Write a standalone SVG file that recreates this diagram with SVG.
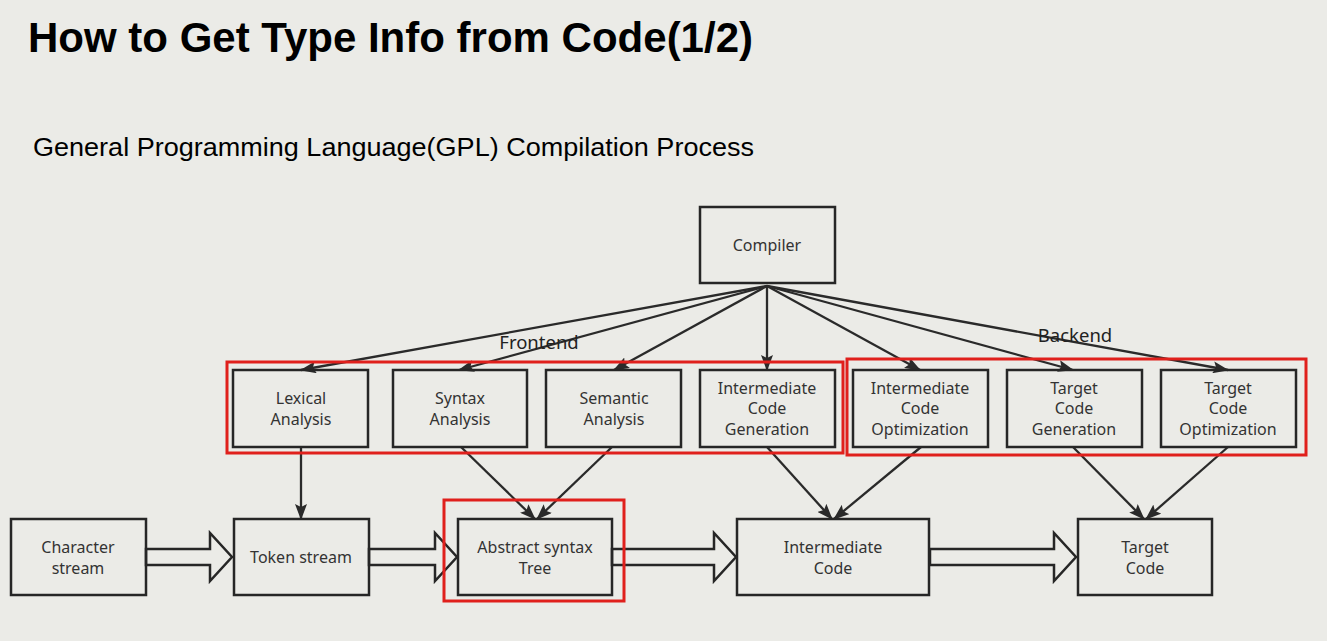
<svg xmlns="http://www.w3.org/2000/svg" width="1327" height="641" viewBox="0 0 1327 641">
<style>
.bg{fill:#ebebe7}
.node rect{fill:none;stroke:#262626;stroke-width:2.5}
.node text,.lbl{font-family:"Noto Sans","Open Sans",sans-serif;font-size:16px;fill:#333;text-anchor:middle}
.lbl{font-size:18.5px;fill:#222}
.red{fill:none;stroke:#e0201c;stroke-width:3}
.conn line{stroke:#2a2a2a;stroke-width:2.3;marker-end:url(#ah)}
.hollow{fill:#ebebe7;stroke:#262626;stroke-width:2.5;stroke-linejoin:miter}
</style>
<defs>
<marker id="ah" viewBox="0 0 16 12" refX="15" refY="6" markerWidth="16" markerHeight="12" markerUnits="userSpaceOnUse" orient="auto">
<path d="M0,0 L16,6 L0,12 L3,6 Z" fill="#2a2a2a"/>
</marker>
</defs>
<rect class="bg" x="0" y="0" width="1327" height="641"/>
<text x="28" y="52" font-family="Liberation Sans,Arial,sans-serif" font-weight="bold" font-size="42" fill="#000" textLength="725" lengthAdjust="spacingAndGlyphs">How to Get Type Info from Code(1/2)</text>
<text x="33" y="156" font-family="Liberation Sans,Arial,sans-serif" font-size="25" fill="#000" textLength="721" lengthAdjust="spacingAndGlyphs">General Programming Language(GPL) Compilation Process</text>

<g id="connectors" class="conn">
<line x1="767" y1="286" x2="301" y2="370"/>
<line x1="767" y1="286" x2="459" y2="370"/>
<line x1="767" y1="286" x2="614" y2="370"/>
<line x1="767" y1="286" x2="767" y2="370"/>
<line x1="767" y1="286" x2="920" y2="370"/>
<line x1="767" y1="286" x2="1073" y2="370"/>
<line x1="767" y1="286" x2="1228" y2="370"/>
<line x1="301" y1="447" x2="301" y2="519"/>
<line x1="461" y1="447" x2="535" y2="519"/>
<line x1="612" y1="447" x2="537" y2="519"/>
<line x1="767" y1="447" x2="832" y2="519"/>
<line x1="921" y1="447" x2="834" y2="519"/>
<line x1="1073" y1="447" x2="1144" y2="519"/>
<line x1="1228" y1="447" x2="1146" y2="519"/>
<polygon class="hollow" points="146,549 210,549 210,533 232,557 210,581 210,565 146,565"/>
<polygon class="hollow" points="369,549 435,549 435,533 457,557 435,581 435,565 369,565"/>
<polygon class="hollow" points="612,549 714,549 714,533 736,557 714,581 714,565 612,565"/>
<polygon class="hollow" points="930,549 1054,549 1054,533 1076,557 1054,581 1054,565 930,565"/>
</g>

<text class="lbl" x="539" y="349">Frontend</text>
<text class="lbl" x="1075" y="342">Backend</text>

<g id="compiler" class="node"><rect x="700" y="207" width="135" height="76"/><text x="767" y="251">Compiler</text></g>
<g id="lexical" class="node"><rect x="233" y="370" width="135" height="77"/><text x="301" y="404">Lexical</text><text x="301" y="425">Analysis</text></g>
<g id="syntax" class="node"><rect x="393" y="370" width="134" height="77"/><text x="460" y="404">Syntax</text><text x="460" y="425">Analysis</text></g>
<g id="semantic" class="node"><rect x="546" y="370" width="135" height="77"/><text x="614" y="404">Semantic</text><text x="614" y="425">Analysis</text></g>
<g id="icg" class="node"><rect x="700" y="370" width="135" height="77"/><text x="767" y="394">Intermediate</text><text x="767" y="414">Code</text><text x="767" y="435">Generation</text></g>
<g id="ico" class="node"><rect x="853" y="370" width="135" height="77"/><text x="920" y="394">Intermediate</text><text x="920" y="414">Code</text><text x="920" y="435">Optimization</text></g>
<g id="tcg" class="node"><rect x="1007" y="370" width="135" height="77"/><text x="1074" y="394">Target</text><text x="1074" y="414">Code</text><text x="1074" y="435">Generation</text></g>
<g id="tco" class="node"><rect x="1161" y="370" width="135" height="77"/><text x="1228" y="394">Target</text><text x="1228" y="414">Code</text><text x="1228" y="435">Optimization</text></g>

<g id="charstream" class="node"><rect x="11" y="519" width="135" height="76"/><text x="78" y="553">Character</text><text x="78" y="574">stream</text></g>
<g id="tokenstream" class="node"><rect x="234" y="519" width="135" height="76"/><text x="301" y="563">Token stream</text></g>
<g id="ast" class="node"><rect x="458" y="519" width="154" height="76"/><text x="535" y="553">Abstract syntax</text><text x="535" y="574">Tree</text></g>
<g id="ic" class="node"><rect x="737" y="519" width="192" height="76"/><text x="833" y="553">Intermediate</text><text x="833" y="574">Code</text></g>
<g id="tc" class="node"><rect x="1078" y="519" width="134" height="76"/><text x="1145" y="553">Target</text><text x="1145" y="574">Code</text></g>

<g id="highlights">
<rect class="red" x="227" y="362" width="616" height="91"/>
<rect class="red" x="847" y="359" width="459" height="96"/>
<rect class="red" x="444" y="500" width="180" height="101"/>
</g>
</svg>
